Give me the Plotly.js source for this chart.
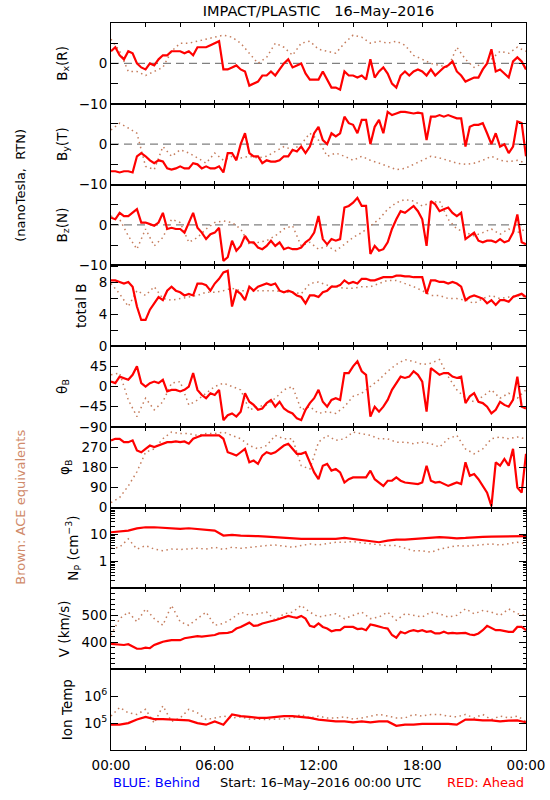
<!DOCTYPE html>
<html>
<head>
<meta charset="utf-8">
<script src="https://cdn.plot.ly/plotly-3.0.1.min.js"></script>
<style>html,body{margin:0;padding:0;background:#fff;}#chart{width:550px;height:800px;}</style>
</head>
<body>
<div id="chart"></div>
<script>
// ---- time grids (hours after 16-May-2016 00:00 UTC) ----
const hoursQ = [0,0.25,0.5,0.75,1,1.25,1.5,1.75,2,2.25,2.5,2.75,3,3.25,3.5,3.75,4,4.25,4.5,4.75,5,5.25,5.5,5.75,6,6.25,6.5,6.75,7,7.25,7.5,7.75,8,8.25,8.5,8.75,9,9.25,9.5,9.75,10,10.25,10.5,10.75,11,11.25,11.5,11.75,12,12.25,12.5,12.75,13,13.25,13.5,13.75,14,14.25,14.5,14.75,15,15.25,15.5,15.75,16,16.25,16.5,16.75,17,17.25,17.5,17.75,18,18.25,18.5,18.75,19,19.25,19.5,19.75,20,20.25,20.5,20.75,21,21.25,21.5,21.75,22,22.25,22.5,22.75,23,23.25,23.5,23.75,24];
const hoursH = [0,0.5,1,1.5,2,2.5,3,3.5,4,4.5,5,5.5,6,6.5,7,7.5,8,8.5,9,9.5,10,10.5,11,11.5,12,12.5,13,13.5,14,14.5,15,15.5,16,16.5,17,17.5,18,18.5,19,19.5,20,20.5,21,21.5,22,22.5,23,23.5,24];

// ---- STEREO Ahead (red), 15-min readings ----
const bxAhead = [3,4,2,1, 3,2.5,0,-1, -1.5,0,-0.5,1, 2,2,3,3, 3,2.5,3,2, 4,4,4,4.5, 5,5.5,-1.5,-1.5, -1,-0.5,-1.5,-2, -5.5,-5,-4.5,-3, -3,-2,-3,-1.5, 0,1,-1,-0.5, 0,-2.5,-4,-4, -4,-2,-4,-6, -6,-6.5,-2,-3, -3,-3.5,-3,-4, 1,-3.5,-2,-1, -2.5,-5,-6,-3, -2,-3,-2,-1.5, -2,-3,-1.5,-3, -2,-1,-0.5,0.5, -2,-3,-4.5,-4, -3.5,-3.5,-1.5,0, 3.5,-2,-1.5,-2.5, -3.5,0.5,1.5,0.5, -1.5];
const byAhead = [-6.7,-6.7,-7,-6.7, -6.7,-7,-3,-2.2, -3,-4,-4.7,-4, -4.3,-6,-6.3,-6, -5.5,-6,-6,-4.7, -5,-6,-5.5,-6, -6,-5.5,-7,-2.2, -2.2,-4,0,2.7, -2.2,-3,-3,-4.7, -4,-4.3,-4.3,-4, -3,-3,-1.4,-1.8, -0.6,-2.2,-0.6,2.7, 4.3,1,0,2.7, 1.9,2.7,6.8,5.2, 4.8,2.7,6,6, 0,4.3,6,2.7, 8,7.2,7.6,8, 8,7.8,7.6,7.8, 7.6,1,6.8,6.8, 7.2,6.8,7.2,6.8, 6.4,6.4,-0.6,4.3, 4.8,4.8,5.2,2.7, 0,2.7,-0.6,0, -2.2,-0.6,5.6,5.2, -3];
const bzAhead = [1.8,1.4,3,2.2, 2.2,3,3.9,0.6, 0.6,0.2,-0.2,0.6, 3,-1,-0.7,-1, -1,-1.9,0.6,3, -0.7,-1.9,-3.5,-2.3, -1.9,-0.7,-8.9,-8, -3.9,-6.4,-5.2,-2.7, -4.3,-4.3,-5.6,-6, -5.2,-3.9,-5.2,-4.3, -6,-5.6,-6,-6, -5.6,-4.3,-3.5,-1.9, 2.2,-3.5,-4.8,-3.5, -3.9,-3.5,4.3,4.7, 5.5,6.7,4.7,4.7, -7.2,-5.2,-6.4,-6, -4.3,-1,1.4,3.4, 3,3.9,4.7,3.4, 1.4,-5.2,5.9,5.1, 3.4,3.9,4.3,3, 2.2,3,-3.5,-2.7, -1.9,-3.9,-4.3,-3.9, -3.9,-4.3,-3.5,-4.3, -3.9,-1.9,2.6,-4.3, -4.8];
const btAhead = [8.3,8.3,8.1,7.9, 8.1,7.5,5,3.3, 3.3,4.6,5.4,6.2, 5.8,7,7.5,7, 6.8,6.4,6.6,6.4, 7.9,7.9,7.7,7, 7.9,8.5,9.3,9.5, 5,7,6.6,5.8, 7.5,7,7.5,7.7, 7.9,7.7,7.9,7, 6.8,7,6.8,6.4, 6.2,5.4,6.4,6.4, 6.2,6.8,7,7.5, 7.5,7.7,8.3,7.9, 8.1,7.9,8.5,8.5, 8.3,8.3,8.5,8.7, 8.7,8.7,8.9,8.9, 8.8,8.8,8.7,8.7, 8.7,6.6,8.3,8.3, 8.1,8.1,7.9,8.1, 7.9,7.5,5.8,6.2, 6.4,6.2,6,5.4, 5.8,5.2,5.8,5.8, 5.6,6.2,6.4,6.6, 6.2];
const thetaAhead = [11,7.5,22,19, 15,26,45,7.5, 0,7.5,11,7.5, 15,-11,-7.5,-7.5, -11,-7.5,0,30, -7.5,-19,-26,-15, -19,-7.5,-75,-64, -60,-67,-56,-15, -34,-41,-52,-49, -37,-30,-45,-34, -49,-56,-60,-71, -75,-52,-37,-26, -7.5,-34,-45,-30, -26,-30,30,30, 45,56,34,26, -67,-45,-56,-45, -30,-7.5,7.5,22, 19,22,34,26, 11,-56,41,34, 26,30,30,22, 19,22,-37,-22, -15,-34,-37,-45, -60,-52,-34,-41, -45,-30,22,-45, -49];
const phiAhead = [300,307,307,292, 292,300,255,247, 262,277,270,277, 285,292,292,295, 292,295,285,307, 315,322,322,322, 322,322,307,247, 240,232,247,262, 202,210,195,232, 247,240,247,262, 277,285,262,240, 240,247,202,157, 127,187,195,165, 172,157,112,127, 135,135,135,135, 165,127,112,97, 120,120,135,120, 112,110,105,105, 112,187,120,112, 115,105,97,105, 112,105,202,142, 150,127,97,67, 7,202,187,217, 187,262,90,67, 240];
const vAhead = [394,393,390,390, 393,384,376,376, 380,378,390,396, 402,405,408,408, 408,415,417,421, 423,421,423,424, 427,433,433,435, 439,451,457,466, 473,461,463,470, 473,478,482,488, 494,498,494,491, 498,488,461,457, 470,457,451,441, 445,445,457,457, 457,449,451,445, 466,463,457,454, 451,427,417,439, 433,441,445,441, 445,439,441,433, 433,439,433,435, 433,433,435,429, 427,433,445,461, 454,445,445,441, 439,439,457,457, 445];
// 30-min readings
const npAhead = [12.2,12.9,14,17,18.7,18.7,17.7,17.2,16.2,17.2,16.2,15.3,14,9.2,9.7,9.2,9.2,8.7,8.4,8,7.5,6.9,6.9,6.9,6.9,6.9,6.9,7.5,6.9,6.5,6,5.2,6,6.5,6.5,6.9,7.3,8,8,7.7,7.3,7.5,8,8.2,8.4,8.4,8.4,8.7,8.7];
const tempAhead = [87000,87000,100000,135000,170000,141000,141000,135000,126000,126000,100000,87000,115000,87000,209000,182000,170000,155000,155000,170000,182000,182000,170000,155000,135000,126000,115000,115000,107000,115000,107000,115000,115000,79000,87000,87000,93000,93000,93000,93000,87000,135000,135000,126000,126000,115000,123000,126000,107000];

// ---- ACE equivalents (brown), 30-min readings ----
const bxACE = [6,3,-2,-2,-3,-2,-1,3,5,5,5.5,6,6.5,7,6.5,5,2.5,0,1.5,5,4,2,5,5.5,3.5,3,2.5,5,7,6.5,5,5.5,5,5.5,4.5,2,1,0,-0.5,-1,4,1,-1,0,1,3,2.5,4,3];
const byACE = [3.5,5.2,4,2.7,-5.5,-6.3,-0.6,-3,-1.4,-2.2,-3.4,-4.7,-2.2,-4,-3,-3.4,-3,-3.4,-3,-1.8,-0.6,-1.4,0,2.7,1,-3,-2.2,-3,-4,-3,-4,-4.7,-5.5,-6.3,-6,-5,-4,-3,-3.4,-4,-4.7,-5,-4.7,-4,-3,-4,-4.3,-4,-4.7];
const bzACE = [2.2,1.4,-2.7,-6,-1,-5.2,-3.1,1.4,0.6,-4.3,-3.1,-1,0.6,1,0.6,-1,-4.8,-4.3,-3.9,-2.7,-1,-0.2,-5.2,-4.3,-6,-5.2,-6.4,-4.8,-3.1,-1.9,-0.2,1.4,3.9,5.5,6.3,5.9,4.7,5.5,5.9,1.4,-1,-1.9,-2.7,-1.9,-1,-2.3,-1,-1.9,-1];
const btACE = [7.9,6.6,5,7,6.4,7.5,6,5.8,6,6.2,6.4,6.8,6.8,7,7.3,7,7,7,7,7,6.8,6.8,6.6,7.9,8.1,7.7,7.5,7.3,7.3,7.5,7.5,7.9,8.3,8.3,7.9,7.5,7,6.4,6.4,6,6,5.8,5.4,6,6.4,6,6.2,6.4,6.2];
const thetaACE = [26,30,-30,-67,-26,-52,-34,7.5,11,-41,-30,-15,0,7.5,0,-7.5,-52,-45,-41,-26,-7.5,0,-52,-45,-60,-56,-60,-45,-22,-15,0,15,34,49,60,56,49,52,60,22,-7.5,-26,-34,-22,-7.5,-26,-15,-26,-7.5];
const phiACE = [22,45,97,160,247,262,307,337,330,330,322,330,330,337,322,307,277,262,277,322,307,307,187,172,292,322,300,307,337,330,322,307,307,292,292,285,292,285,270,307,322,262,240,262,307,315,307,315,307];
const npACE = [3.1,3.4,6.9,2.9,3.9,2.9,2.5,2.9,2.8,2.9,3.1,2.9,3.4,2.8,3.4,3.1,3.4,3.7,3.9,4.1,3.7,3.4,3.9,4.5,4.1,4.5,5.2,5.2,5.5,4.9,4.5,4.1,3.9,3.9,3.1,2.5,2.5,2.2,2.9,3.4,3.9,3.7,3.9,4.1,4.5,4.1,4.5,5.2,4.5];
const vACE = [427,488,512,476,524,488,463,537,476,463,488,512,463,470,488,512,500,506,512,482,506,512,537,512,494,500,506,488,500,512,488,494,512,482,506,500,494,512,506,494,500,524,506,518,512,500,524,506,500];
const tempACE = [182000,380000,240000,209000,324000,100000,437000,115000,155000,324000,240000,135000,155000,182000,155000,170000,141000,135000,135000,141000,141000,151000,209000,155000,182000,155000,155000,170000,141000,155000,182000,209000,182000,155000,155000,209000,182000,209000,209000,182000,170000,209000,155000,209000,135000,182000,155000,182000,115000];

// ---- ticks and labels ----
const timeTickVals = [0,6,12,18,24];
const timeTickText = ['00:00','06:00','12:00','18:00','00:00'];
const timeMinorVals = [2,4,8,10,14,16,20,22];

const RED = '#ff0000';
const BROWN = '#c57d5d';
const FONT = 'DejaVu Sans, Verdana, sans-serif';

// panel definitions (top to bottom)
const panels = [
  {title:'B<sub>x</sub>(R)', ace:bxACE, ahead:bxAhead, ah:hoursQ, range:[-10,10], tv:[-10,0], tt:['\u221210','0'], mv:[-5,5], mlen:7, zero:true},
  {title:'B<sub>y</sub>(T)', ace:byACE, ahead:byAhead, ah:hoursQ, range:[-10,10], tv:[-10,0], tt:['\u221210','0'], mv:[-5,5], mlen:7, zero:true},
  {title:'B<sub>z</sub>(N)', ace:bzACE, ahead:bzAhead, ah:hoursQ, range:[-10,10], tv:[-10,0], tt:['\u221210','0'], mv:[-5,5], mlen:7, zero:true},
  {title:'total B', ace:btACE, ahead:btAhead, ah:hoursQ, range:[0,10.2], tv:[0,4,8], tt:['0','4','8'], mv:[2,6,10], mlen:7},
  {title:'\u03b8<sub>B</sub>', ace:thetaACE, ahead:thetaAhead, ah:hoursQ, range:[-90,90], tv:[-90,-45,0,45], tt:['\u221290','\u221245','0','45']},
  {title:'\u03c6<sub>B</sub>', ace:phiACE, ahead:phiAhead, ah:hoursQ, range:[0,360], tv:[0,90,180,270], tt:['0','90','180','270']},
  {title:'N<sub>P</sub> (cm<sup>\u22123</sup>)', ace:npACE, ahead:npAhead, ah:hoursH, type:'log', range:[-1,2], tv:[1,10], tt:['1','10'],
    mv:[0.2,0.3,0.4,0.5,0.6,0.7,0.8,0.9,2,3,4,5,6,7,8,9,20,30,40,50,60,70,80,90], mlen:3.5},
  {title:'V (km/s)', ace:vACE, ahead:vAhead, ah:hoursQ, range:[300,600], tv:[400,500], tt:['400','500'],
    mv:[320,340,360,380,420,440,460,480,520,540,560,580], mlen:3.5},
  {title:'Ion Temp', ace:tempACE, ahead:tempAhead, ah:hoursH, type:'log', range:[4,7], tv:[1e5,1e6], tt:['10<sup>5</sup>','10<sup>6</sup>']}
];

const n = panels.length;
const traces = [];
const layout = {
  width:550, height:800,
  margin:{l:111, r:24, t:23, b:50},
  paper_bgcolor:'#ffffff', plot_bgcolor:'#ffffff',
  font:{family:FONT, size:13, color:'#000'},
  showlegend:false,
  title:{text:'IMPACT/PLASTIC\u00a0\u00a0\u00a016\u2013May\u20132016', font:{family:FONT, size:14.5, color:'#000'},
         x:0.5, xref:'paper', xanchor:'center', y:1-11/800, yref:'container', yanchor:'middle'},
  shapes:[], annotations:[]
};

panels.forEach((p, i) => {
  const k = i + 1;
  const xa = k === 1 ? 'x' : 'x' + k;
  const ya = k === 1 ? 'y' : 'y' + k;
  const top = 1 - i / n, bot = 1 - (i + 1) / n;
  traces.push({x:hoursH, y:p.ace, xaxis:xa, yaxis:ya, type:'scatter', mode:'lines',
    line:{color:BROWN, width:1.5, dash:'1.5px,3.5px'}, hoverinfo:'skip'});
  traces.push({x:p.ah, y:p.ahead, xaxis:xa, yaxis:ya, type:'scatter', mode:'lines',
    line:{color:RED, width:2.2}, hoverinfo:'skip'});
  const isBottom = (k === n);
  layout['xaxis' + (k === 1 ? '' : k)] = {
    domain:[0,1], anchor:ya, range:[0,24], tickmode:'array', tickvals:timeTickVals, ticktext:timeTickText,
    showticklabels:isBottom, ticks:'inside', ticklen:4, tickcolor:'#000', tickwidth:1,
    minor:{tickmode:'array', tickvals:timeMinorVals, ticks:'inside', ticklen:4, tickcolor:'#000', showgrid:false},
    showline:true, linecolor:'#000', linewidth:1, mirror:'allticks',
    showgrid:false, zeroline:false, tickfont:{family:FONT, size:13.5, color:'#000'}, ticklabelstandoff:3
  };
  const yax = {
    domain:[bot, top], anchor:xa, range:p.range, type:p.type || 'linear',
    tickmode:'array', tickvals:p.tv, ticktext:p.tt,
    ticks:'inside', ticklen:7, tickcolor:'#000', tickwidth:1,
    showline:true, linecolor:'#000', linewidth:1, mirror:'allticks',
    showgrid:false, zeroline:false, tickfont:{family:FONT, size:13.5, color:'#000'},
    title:{text:p.title, font:{family:FONT, size:13.5, color:'#000'}, standoff:8}
  };
  if (p.mv) yax.minor = {tickmode:'array', tickvals:p.mv, ticks:'inside', ticklen:p.mlen, tickcolor:'#000', showgrid:false};
  layout['yaxis' + (k === 1 ? '' : k)] = yax;
  if (p.zero) {
    layout.shapes.push({type:'line', xref:xa + ' domain', yref:ya, x0:0, x1:1, y0:0, y1:0,
      line:{color:'#808080', width:1.3, dash:'8px,5px'}, layer:'below'});
  }
});

layout.annotations.push(
  {text:'(nanoTesla,\u00a0\u00a0RTN)', xref:'paper', yref:'paper', x:(21-111)/415, y:(750.3-186)/727,
   textangle:-90, showarrow:false, xanchor:'center', yanchor:'middle', font:{family:FONT, size:13, color:'#000'}},
  {text:'Brown: ACE equivalents', xref:'paper', yref:'paper', x:(21-111)/415, y:(750.3-508)/727,
   textangle:-90, showarrow:false, xanchor:'center', yanchor:'middle', font:{family:FONT, size:13, color:'#d08a6a'}},
  {text:'BLUE: Behind', xref:'paper', yref:'paper', x:0, y:(750.3-783)/727, xanchor:'left', yanchor:'middle',
   showarrow:false, font:{family:FONT, size:13, color:'#0000ff'}},
  {text:'Start: 16\u2013May\u20132016 00:00 UTC', xref:'paper', yref:'paper', x:(320-111)/415, y:(750.3-783)/727, xanchor:'center', yanchor:'middle',
   showarrow:false, font:{family:FONT, size:13, color:'#000'}},
  {text:'RED: Ahead', xref:'paper', yref:'paper', x:1, y:(750.3-783)/727, xanchor:'right', yanchor:'middle',
   showarrow:false, font:{family:FONT, size:13, color:'#ff0000'}}
);

Plotly.newPlot('chart', traces, layout, {staticPlot:true, displayModeBar:false});
</script>
</body>
</html>
